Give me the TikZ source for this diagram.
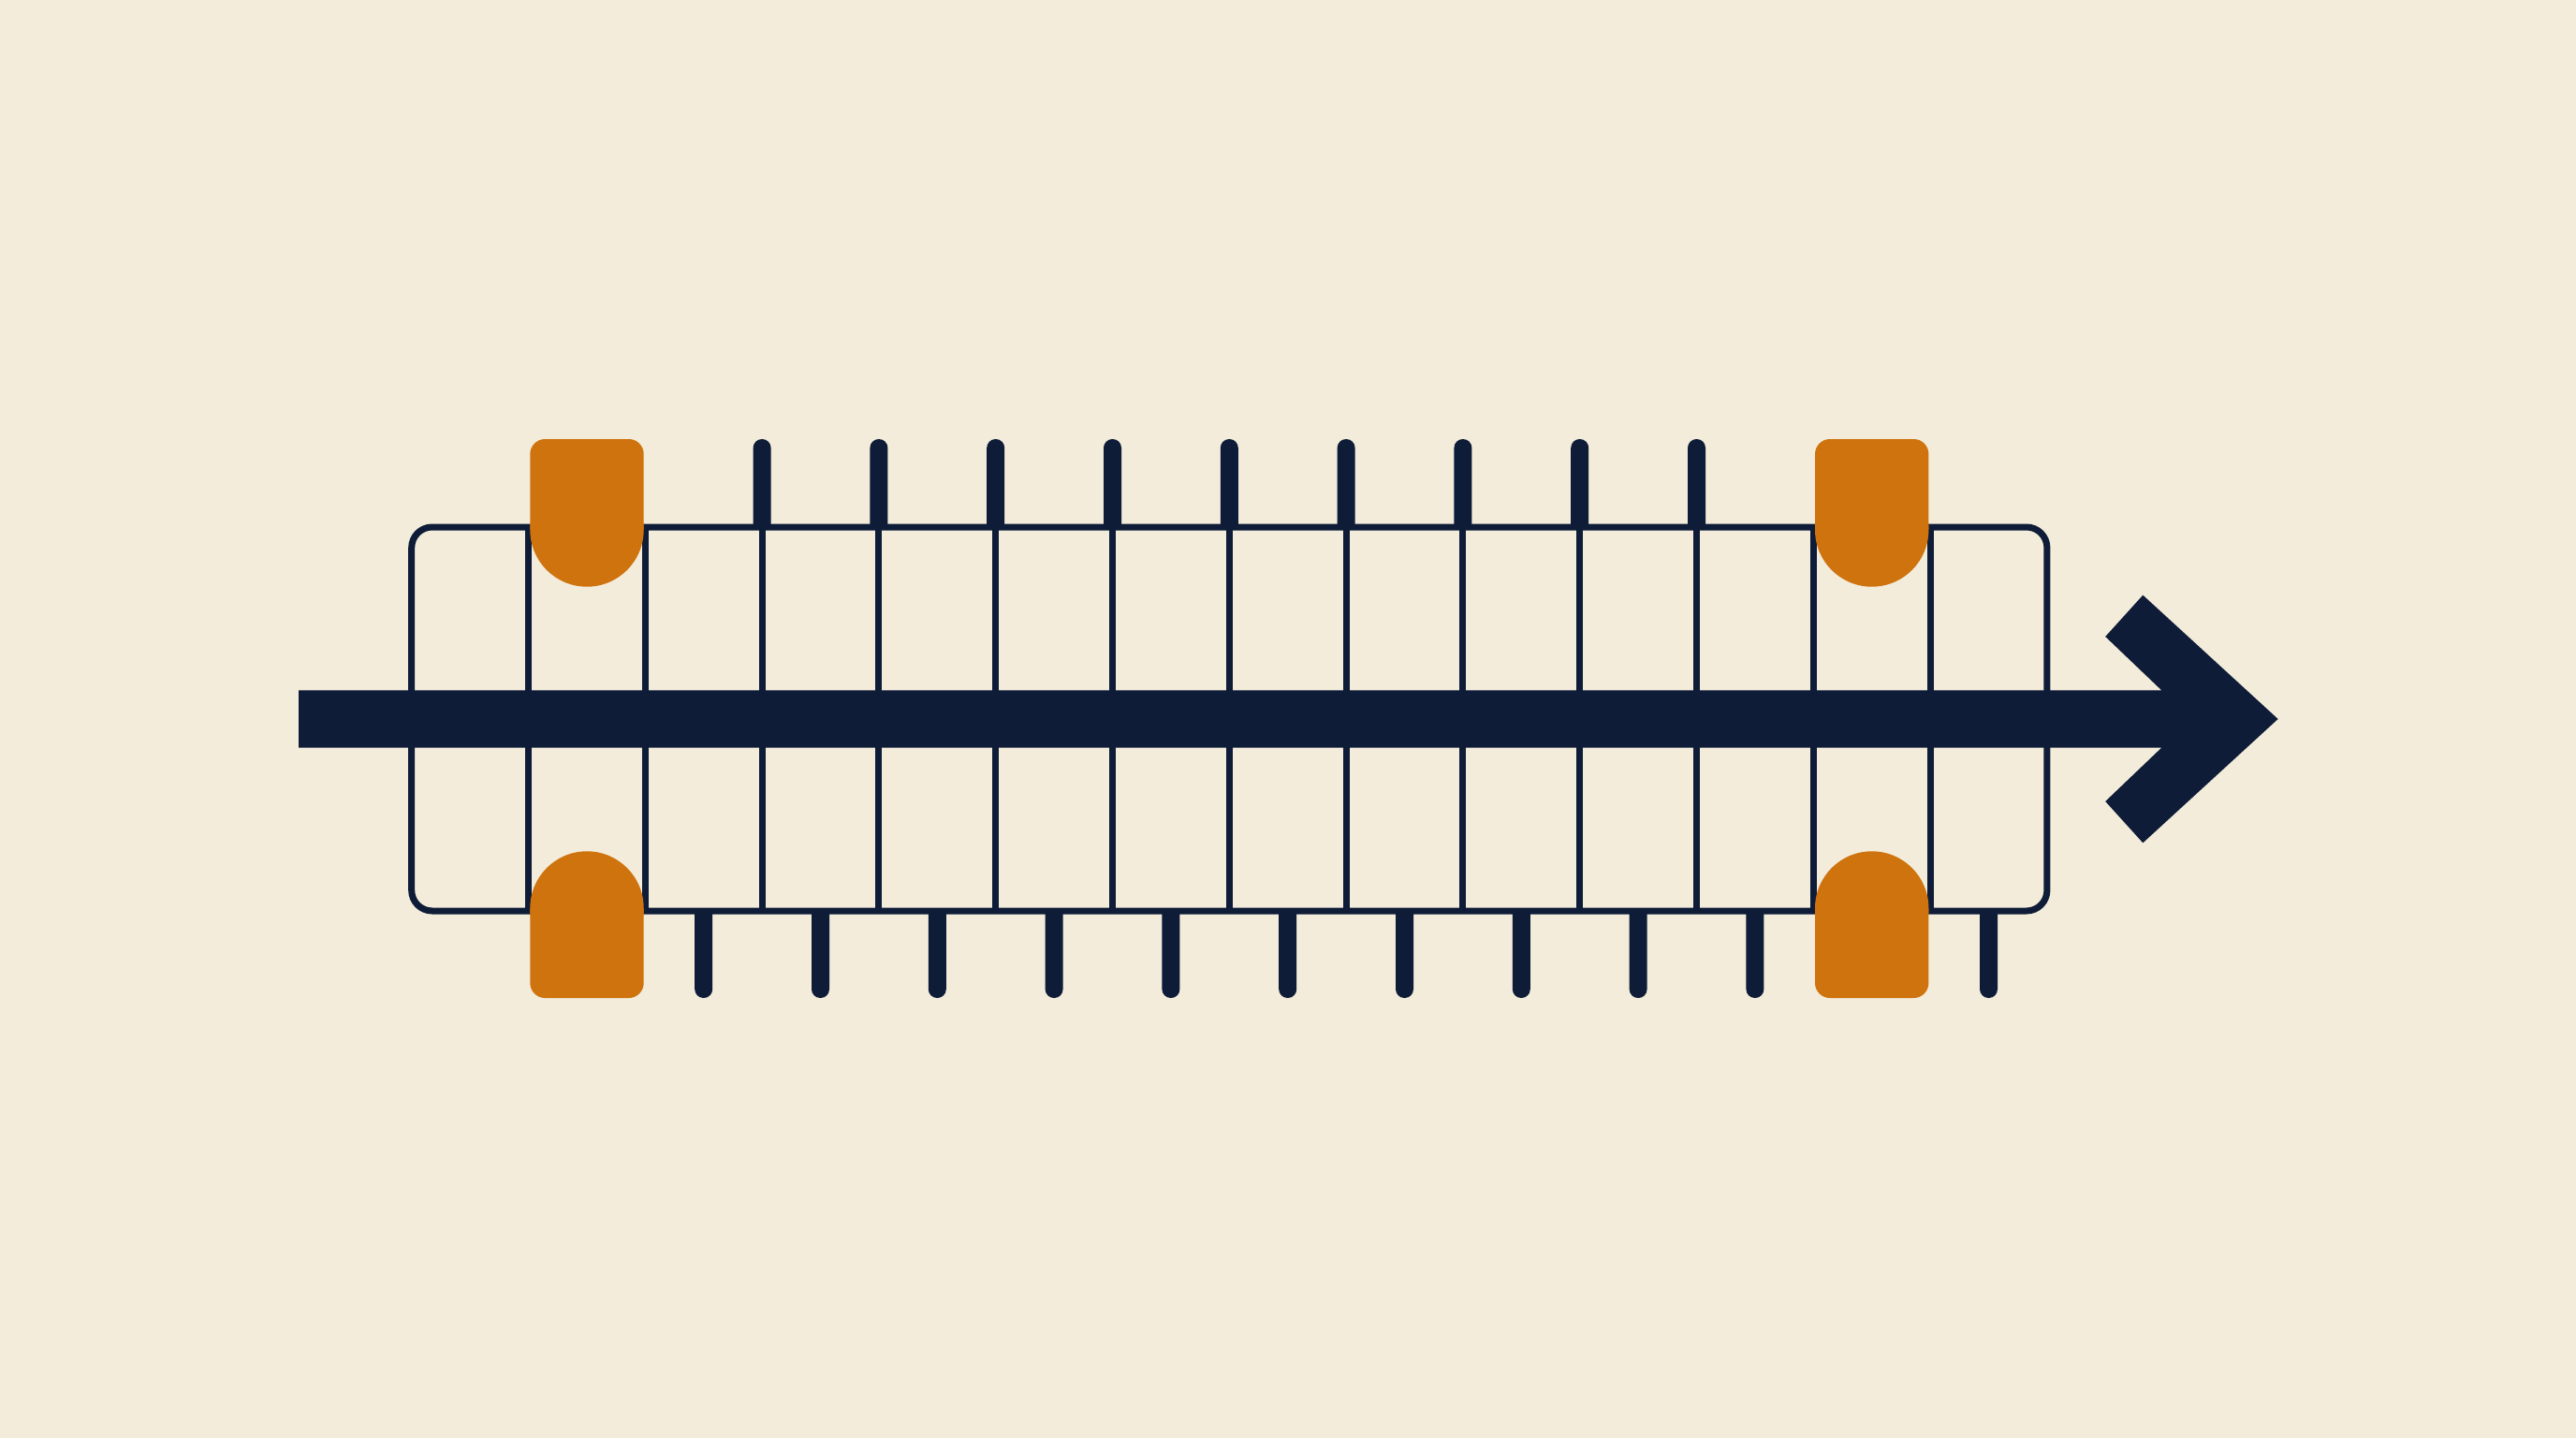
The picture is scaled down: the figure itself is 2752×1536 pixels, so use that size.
\documentclass[tikz,border=0pt]{standalone}
\definecolor{bgc}{HTML}{F3ECDA}
\definecolor{navy}{HTML}{0E1C38}
\definecolor{amber}{HTML}{CF730F}
\begin{document}
\begin{tikzpicture}[x=1pt,y=-1pt,
  gridline/.style={draw=navy,line width=7pt},
  navyfill/.style={fill=navy},
  amberfill/.style={fill=amber}]
\fill[bgc] (0,0) rectangle (2752,1536);
\useasboundingbox (0,0) rectangle (2752,1536);
% frame and cell dividers
\draw[gridline, rounded corners=22pt] (439.7,563) rectangle (2186.9,973);
\foreach \i in {1,...,13}
  \draw[gridline] ({439.7+124.8*\i},563) -- ({439.7+124.8*\i},973);
% top ticks
\foreach \i in {3,...,11}{
  \pgfmathsetmacro{\tx}{439.7+124.8*\i}
  \fill[navyfill] ({\tx-9.5},563) [rounded corners=9.4pt] -- ({\tx-9.5},469) -- ({\tx+9.5},469) [sharp corners] -- ({\tx+9.5},563) -- cycle;
}
% bottom ticks
\foreach \i in {2,...,11,13}{
  \pgfmathsetmacro{\tx}{439.7+124.8*(\i+0.5)}
  \fill[navyfill] ({\tx-9.5},973) [rounded corners=9.4pt] -- ({\tx-9.5},1066) -- ({\tx+9.5},1066) [sharp corners] -- ({\tx+9.5},973) -- cycle;
}
% arrow
\fill[navyfill] (319,737.3) -- (2309.2,737.3) -- (2249.2,680) -- (2289.3,635.7) -- (2433.6,768)
  -- (2289.3,900.3) -- (2249.2,856) -- (2309.2,798.7) -- (319,798.7) -- cycle;
% amber markers
\foreach \c in {627,1999.7}{
  \fill[amberfill] ({\c-60.7},566) [rounded corners=16pt] -- ({\c-60.7},469) -- ({\c+60.7},469) [sharp corners] -- ({\c+60.7},566) -- cycle;
  \fill[amberfill] (\c,566) circle (60.7pt);
  \fill[amberfill] ({\c-60.7},970) [rounded corners=16pt] -- ({\c-60.7},1066) -- ({\c+60.7},1066) [sharp corners] -- ({\c+60.7},970) -- cycle;
  \fill[amberfill] (\c,970) circle (60.7pt);
}
\end{tikzpicture}
\end{document}
